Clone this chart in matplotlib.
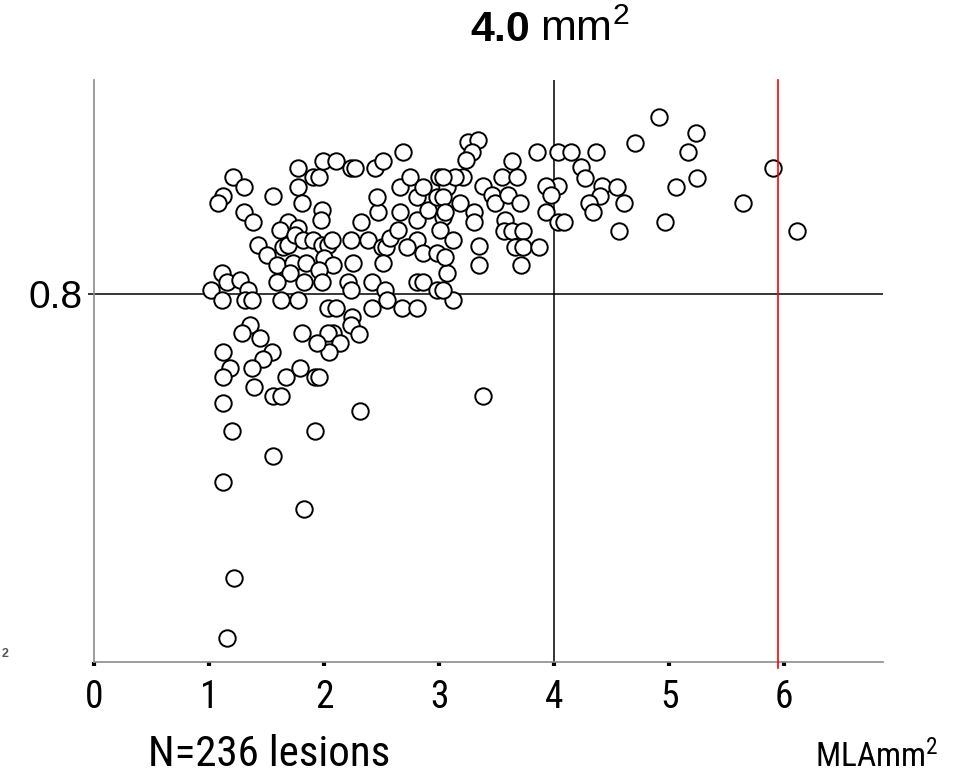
import matplotlib.pyplot as plt

# minimal lumen area (mm^2) and FFR for each lesion
mla = [1.21, 1.30, 1.12, 1.08, 1.56, 1.30, 1.38, 1.77, 1.77, 1.81,
       1.69, 1.62, 1.77, 1.43, 1.50, 1.59, 1.64, 1.69, 1.75, 1.73,
       1.70, 1.59, 1.11, 1.16, 1.27, 1.02, 1.11, 1.34, 1.31, 1.37,
       1.63, 1.77, 1.36, 1.29, 1.44, 1.55, 1.47, 1.12, 1.18, 1.12,
       1.37, 1.39, 1.67, 1.79, 1.56, 1.63, 1.12, 1.20, 1.56, 1.12,
       1.83, 1.22, 1.16, 1.81, 1.83,
       1.90, 1.96, 1.99, 2.10, 2.23, 2.27, 2.44, 2.51, 2.69, 1.98,
       1.97, 1.82, 1.84, 1.90, 1.98, 2.03, 2.07, 2.00, 2.08, 1.96,
       1.98, 2.23, 2.32, 2.38, 2.47, 2.46, 2.50, 2.54, 2.57, 2.64,
       2.66, 2.66, 2.75, 2.81, 2.86, 2.81, 2.90, 2.81, 2.86, 2.72,
       2.98, 3.00, 3.07, 3.03, 3.01, 3.12, 2.98, 3.07, 2.25, 2.51,
       2.21, 2.42, 2.53, 2.81, 2.86, 2.98, 3.12, 2.23, 2.03, 2.10,
       2.24, 2.42, 2.55, 2.68, 2.81, 2.23, 2.30, 2.08, 2.03, 2.14,
       2.04, 1.94, 1.92, 1.96, 1.92, 2.31,
       3.25, 3.34, 3.29, 3.23, 3.21, 3.14, 3.18, 3.30, 3.30, 3.38,
       3.46, 3.49, 3.55, 3.68, 3.63, 3.60, 3.70, 3.57, 3.56, 3.63,
       3.73, 3.66, 3.73, 3.87, 3.71, 3.35, 3.35, 3.05, 3.03, 3.03,
       3.03, 3.05, 3.85, 4.03, 4.15, 4.36, 4.03, 3.93, 3.97, 3.93,
       4.03, 4.09, 4.23, 4.27, 4.42, 4.40, 4.30, 4.34, 4.55, 4.61,
       4.56, 4.70, 4.91, 4.96, 5.06, 5.16, 5.23, 5.24, 5.64, 5.90,
       6.11, 3.38]
ffr = [0.917, 0.907, 0.898, 0.891, 0.898, 0.882, 0.872, 0.926, 0.907, 0.891,
       0.872, 0.864, 0.866, 0.849, 0.839, 0.829, 0.847, 0.849, 0.859, 0.831,
       0.821, 0.812, 0.821, 0.812, 0.814, 0.804, 0.794, 0.804, 0.794, 0.794,
       0.794, 0.794, 0.769, 0.761, 0.756, 0.742, 0.735, 0.742, 0.726, 0.717,
       0.726, 0.707, 0.717, 0.726, 0.698, 0.698, 0.691, 0.663, 0.638, 0.612,
       0.585, 0.516, 0.456, 0.761, 0.812,
       0.917, 0.917, 0.933, 0.933, 0.926, 0.926, 0.926, 0.933, 0.942, 0.884,
       0.874, 0.854, 0.831, 0.854, 0.849, 0.849, 0.854, 0.836, 0.829, 0.824,
       0.812, 0.854, 0.872, 0.854, 0.882, 0.897, 0.847, 0.847, 0.856, 0.864,
       0.882, 0.907, 0.917, 0.897, 0.907, 0.874, 0.884, 0.854, 0.841, 0.847,
       0.897, 0.917, 0.907, 0.877, 0.864, 0.854, 0.841, 0.821, 0.831, 0.831,
       0.812, 0.812, 0.804, 0.812, 0.812, 0.804, 0.794, 0.804, 0.786, 0.786,
       0.777, 0.786, 0.794, 0.786, 0.786, 0.769, 0.760, 0.761, 0.761, 0.751,
       0.742, 0.751, 0.717, 0.717, 0.663, 0.683,
       0.952, 0.954, 0.942, 0.934, 0.917, 0.917, 0.891, 0.882, 0.872, 0.908,
       0.899, 0.891, 0.917, 0.917, 0.933, 0.899, 0.891, 0.874, 0.863, 0.863,
       0.863, 0.847, 0.847, 0.847, 0.829, 0.848, 0.829, 0.837, 0.804, 0.917,
       0.897, 0.882, 0.942, 0.942, 0.942, 0.942, 0.908, 0.908, 0.899, 0.882,
       0.872, 0.872, 0.927, 0.916, 0.908, 0.898, 0.891, 0.882, 0.907, 0.891,
       0.863, 0.951, 0.977, 0.872, 0.907, 0.942, 0.961, 0.916, 0.891, 0.926,
       0.863, 0.698]

ffr_cut = 0.8
mla_cut = 4.0
mla_red = 5.95
xticks = [0, 1, 2, 3, 4, 5, 6]

narrow = ['Roboto Condensed', 'Archivo Narrow', 'DejaVu Sans']
arial = ['Liberation Sans', 'DejaVu Sans']
# superscripts in $...$ follow the font of the surrounding text
plt.rcParams['mathtext.default'] = 'regular'

fig = plt.figure(figsize=(9.62, 7.75), dpi=100)
ax = fig.add_axes([0.0977, 0.1458, 0.8203, 0.7510])

ax.scatter(mla, ffr, s=140, facecolors='white', edgecolors='black',
           linewidths=1.4, zorder=3)

ax.axhline(ffr_cut, color='black', lw=1.1, zorder=2)
ax.axvline(mla_cut, color='black', lw=1.1, zorder=2)
ax.axvline(mla_red, ymin=-0.01, ymax=1, color='red', lw=1.2, zorder=4,
           clip_on=False)

ax.set_xlim(0, 6.86)
ax.set_ylim(0.432, 1.014)

for s in ['top', 'right']:
    ax.spines[s].set_visible(False)
for s in ['left', 'bottom']:
    ax.spines[s].set_color('#8c8c8c')
    ax.spines[s].set_linewidth(1.2)

ax.set_xticks(xticks)
ax.set_xticklabels([str(t) for t in xticks], family=narrow, fontsize=27)
ax.tick_params(axis='x', direction='out', length=3, width=3, color='black',
               pad=9)
ax.set_yticks([ffr_cut])
ax.set_yticklabels(['0.8'], family=arial, fontsize=28)
ax.tick_params(axis='y', direction='out', length=4, width=1.1, color='black',
               pad=4)

fig.text(0.5515, 0.947, '4.0', family=arial, fontsize=31, weight='bold',
         ha='right', va='baseline')
fig.text(0.5613, 0.947, 'mm$^{2}$', family=arial, fontsize=31,
         ha='left', va='baseline')
fig.text(0.154, 0.011, 'N=236 lesions', family=narrow, fontsize=31,
         ha='left', va='baseline')
fig.text(0.847, 0.011, 'MLAmm$^{2}$', family=narrow, fontsize=24,
         ha='left', va='baseline')
fig.text(0.002, 0.152, '2', family=arial, fontsize=9, weight='bold',
         color='#555555', ha='left', va='baseline')

fig.savefig('out.png', dpi=100)
